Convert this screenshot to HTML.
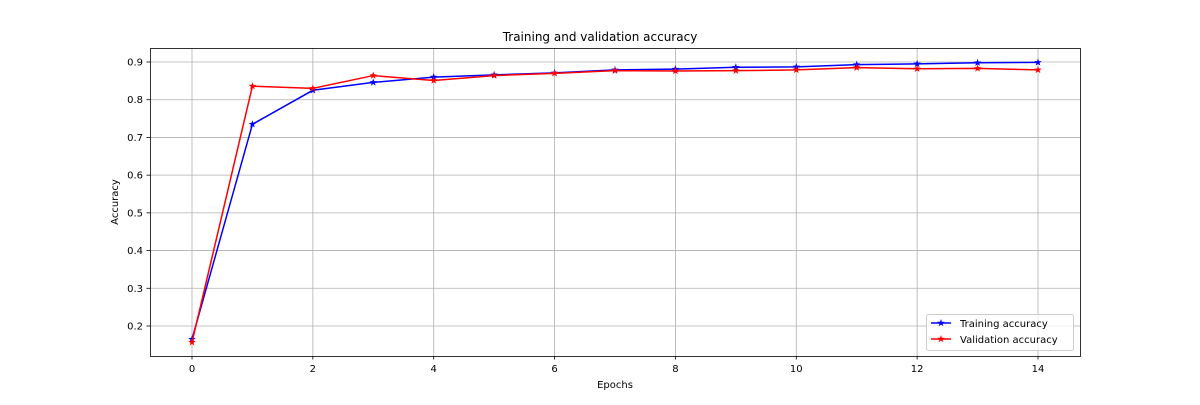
<!DOCTYPE html>
<html><head><meta charset="utf-8"><style>
body{margin:0;background:#fff;width:1200px;height:400px;overflow:hidden}
text{font-family:"DejaVu Sans","Liberation Sans",sans-serif;font-size:10px;fill:#000}
</style></head><body>
<svg id="s" width="1200" height="400" xmlns="http://www.w3.org/2000/svg">
<g id="grid" stroke="#b0b0b0" stroke-width="0.8"></g>
<g id="data"></g>
<rect x="150.5" y="48.5" width="930" height="308" fill="none" stroke="#000" stroke-width="0.8"/>
<g id="ticks"></g>
<text x="600" y="41" text-anchor="middle" style="font-size:12px">Training and validation accuracy</text>
<text x="615" y="388" text-anchor="middle">Epochs</text>
<text transform="translate(118,202) rotate(-90)" text-anchor="middle">Accuracy</text>
<rect x="926.5" y="314.5" width="147" height="36" rx="2" fill="#fff" fill-opacity="0.8" stroke="#ccc"/>
<line x1="931" y1="323" x2="951" y2="323" stroke="#0000ff" stroke-width="1.5"/>
<line x1="931" y1="339" x2="951" y2="339" stroke="#ff0000" stroke-width="1.5"/>
<g id="leg"></g>
<text x="960" y="327">Training accuracy</text>
<text x="960" y="343">Validation accuracy</text>
</svg>
<script>
const NS="http://www.w3.org/2000/svg";
const X=e=>192+e*846/14, Y=v=>62+(0.9-v)*377.14;
const g=document.getElementById('grid'),t=document.getElementById('ticks'),d=document.getElementById('data'),lg=document.getElementById('leg');
function el(p,tag,a,txt){const e=document.createElementNS(NS,tag);for(const k in a)e.setAttribute(k,a[k]);if(txt!==undefined)e.textContent=txt;p.appendChild(e);return e;}
for(let e=0;e<=14;e+=2){const x=X(e);el(g,'line',{x1:x,x2:x,y1:48,y2:356});el(t,'line',{x1:x,x2:x,y1:356,y2:359.5,stroke:'#000','stroke-width':0.8});el(t,'text',{x:x,y:372,'text-anchor':'middle'},e);}
for(let i=2;i<=9;i++){const v=i/10,y=Y(v);el(g,'line',{x1:150,x2:1080,y1:y,y2:y});el(t,'line',{x1:146.5,x2:150,y1:y,y2:y,stroke:'#000','stroke-width':0.8});el(t,'text',{x:143,y:y+3.5,'text-anchor':'end'},v.toFixed(1));}
function star(p,cx,cy,c){let pts=[];for(let k=0;k<10;k++){const r=k%2?1.6:4,a=-Math.PI/2+k*Math.PI/5;pts.push((cx+r*Math.cos(a)).toFixed(2)+','+(cy+r*Math.sin(a)).toFixed(2));}el(p,'polygon',{points:pts.join(' '),fill:c});}
const tr=[0.165,0.735,0.825,0.846,0.860,0.866,0.871,0.879,0.881,0.886,0.887,0.893,0.895,0.898,0.899];
const va=[0.157,0.836,0.830,0.864,0.851,0.864,0.870,0.877,0.876,0.877,0.879,0.885,0.882,0.883,0.879];
[[tr,'#0000ff'],[va,'#ff0000']].forEach(([a,c])=>{el(d,'polyline',{points:a.map((v,i)=>X(i)+','+Y(v)).join(' '),fill:'none',stroke:c,'stroke-width':1.5});a.forEach((v,i)=>star(d,X(i),Y(v),c));});
star(lg,941,323,'#0000ff');star(lg,941,339,'#ff0000');
</script>
</body></html>
